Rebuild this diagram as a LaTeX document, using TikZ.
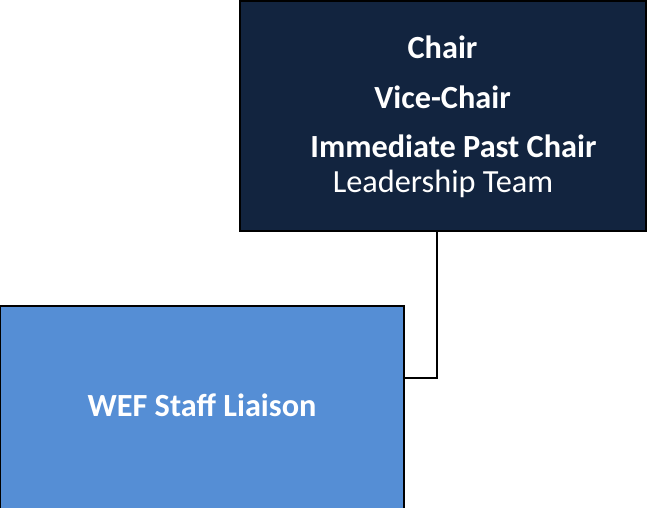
\documentclass[tikz,border=0pt]{standalone}
\usepackage{fontspec}
\setmainfont{Carlito}
\definecolor{navy}{HTML}{12243F}
\definecolor{liaison}{HTML}{558ED5}
\begin{document}
\begin{tikzpicture}[x=1pt,y=-1pt,
  boxstyle/.style={draw=black,line width=2pt,inner sep=0pt,outer sep=0pt},
  wtext/.style={text=white,anchor=base,inner sep=0pt,font=\fontsize{32.3}{38}\selectfont},
  btext/.style={wtext,font=\fontsize{32.3}{38}\selectfont\bfseries},
  link/.style={draw=black,line width=2pt}]
\useasboundingbox (0,0) rectangle (647,507);
\node[boxstyle,fill=navy,minimum width=406pt,minimum height=230pt] (lead) at (443,116) {};
\node[boxstyle,fill=liaison,minimum width=404pt,minimum height=206pt] (staff) at (202,409) {};
\node[btext] (t1) at (442.5,58) {Chair};
\node[btext] (t2) at (442.5,108) {Vice-Chair};
\node[btext] (t3) at (453.5,157) {Immediate Past Chair};
\node[wtext] (t4) at (443,192) {Leadership Team};
\node[btext] (t5) at (202,416) {WEF Staff Liaison};
\coordinate (bend) at (437,378);
\draw[link] (lead.south -| bend) -- (bend) -- (staff.east |- bend);
\end{tikzpicture}
\end{document}
